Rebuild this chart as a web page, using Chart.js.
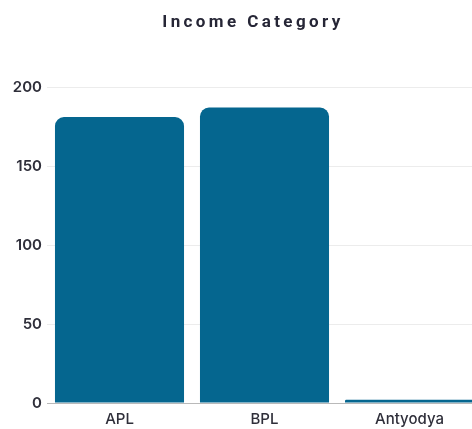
<!DOCTYPE html>
<html>
<head>
<meta charset="utf-8">
<script src="https://cdn.jsdelivr.net/npm/chart.js@4"></script>
<style>
  html, body { margin: 0; padding: 0; background: #ffffff; overflow: hidden; }
  #wrap { width: 490px; height: 437px; position: relative; }
</style>
</head>
<body>
<div id="wrap"><canvas id="chart"></canvas></div>
<script>
const categories = ['APL', 'BPL', 'Antyodya'];
const households = [181, 187, 2];
const yTicks = [0, 50, 100, 150, 200];
const chartTitle = 'Income Category';

const BAR_COLOR = '#05668f';
const TEXT_COLOR = '#2f2f3a';

// Spaced-out heading drawn on the canvas
const spacedTitle = {
  id: 'spacedTitle',
  afterDraw(chart) {
    const ctx = chart.ctx;
    ctx.save();
    ctx.font = 'bold 17px Roboto';
    ctx.fillStyle = '#262636';
    ctx.textAlign = 'center';
    ctx.textBaseline = 'middle';
    if ('letterSpacing' in ctx) ctx.letterSpacing = '3.4px';
    ctx.fillText(chartTitle, 253, 23);
    ctx.restore();
  }
};

new Chart(document.getElementById('chart'), {
  type: 'bar',
  data: {
    labels: categories,
    datasets: [{
      label: chartTitle,
      data: households,
      backgroundColor: BAR_COLOR,
      borderRadius: { topLeft: 9, topRight: 9, bottomLeft: 0, bottomRight: 0 },
      borderSkipped: 'bottom',
      categoryPercentage: 1.0,
      barPercentage: 0.89
    }]
  },
  options: {
    responsive: true,
    maintainAspectRatio: false,
    animation: false,
    layout: { padding: { top: 87, right: 8, left: 0, bottom: 2 } },
    plugins: {
      legend: { display: false },
      title: { display: false },
      tooltip: { enabled: false }
    },
    scales: {
      x: {
        grid: { display: false, drawTicks: false },
        border: { display: true, color: '#b9b9b9', width: 1 },
        ticks: {
          color: TEXT_COLOR,
          font: { family: 'Inter', size: 15, weight: '500' },
          padding: 7
        }
      },
      y: {
        min: 0,
        max: 200,
        afterBuildTicks(scale) {
          scale.ticks = yTicks.map(v => ({ value: v }));
        },
        afterFit(scale) { scale.width = 47; },
        grid: { color: '#ececec', drawTicks: false },
        border: { display: false },
        ticks: {
          color: TEXT_COLOR,
          font: { family: 'Inter', size: 15, weight: '600' },
          padding: 5
        }
      }
    }
  },
  plugins: [spacedTitle]
});
</script>
</body>
</html>
